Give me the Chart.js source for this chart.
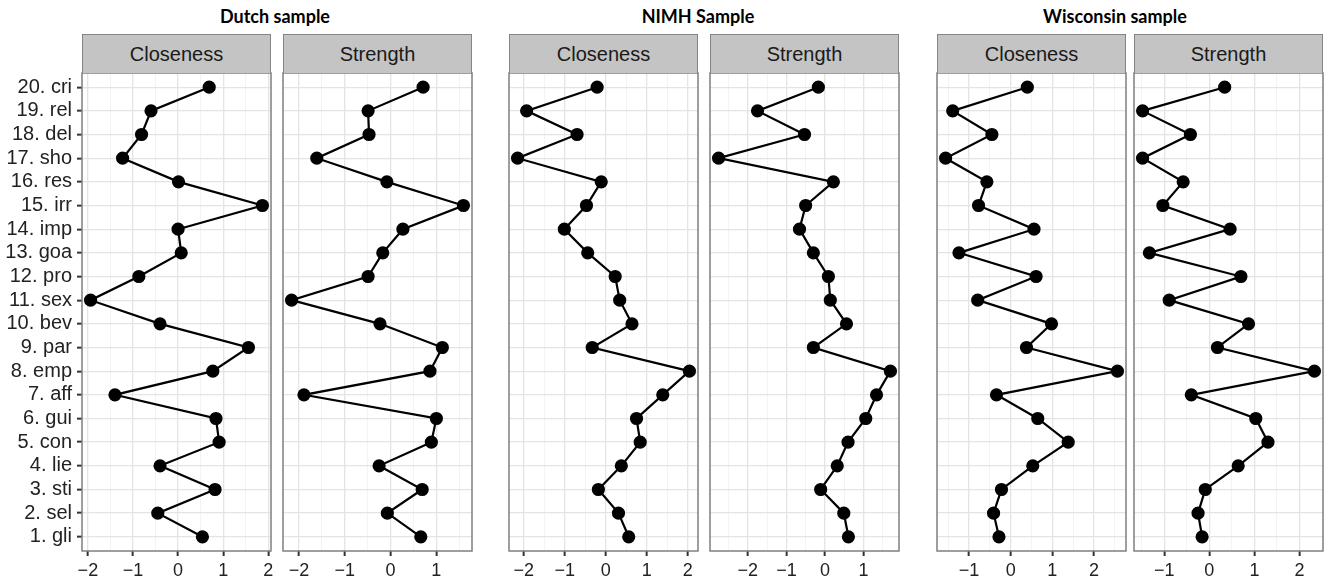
<!DOCTYPE html>
<html>
<head>
<meta charset="utf-8">
<title>Centrality indices</title>
<script src="https://cdn.jsdelivr.net/npm/chart.js@4.4.1/dist/chart.umd.min.js"></script>
<style>
    body { margin: 0; background: #fff; }
    #wrap { position: relative; width: 1329px; height: 583px; overflow: hidden; font-family: "Liberation Sans", Arial, sans-serif; }
    .group { position: absolute; top: 5px; width: 300px; margin-left: -150px; text-align: center; font: bold 18px Lato, "Open Sans", sans-serif; color: #000; }
    .strip { position: absolute; top: 34px; height: 39px; box-sizing: border-box; background: #c4c4c4; border: 1.5px solid #858585; border-bottom: none; font-size: 20px; line-height: 38px; color: #1a1a1a; text-align: center; }
    canvas { position: absolute; }
</style>
</head>
<body>
<div id="wrap"></div>
<script>
// Items, listed from the bottom of the axis (1) to the top (20)
const items = ['1. gli', '2. sel', '3. sti', '4. lie', '5. con', '6. gui', '7. aff', '8. emp', '9. par', '10. bev',
               '11. sex', '12. pro', '13. goa', '14. imp', '15. irr', '16. res', '17. sho', '18. del', '19. rel', '20. cri'];
const samples = ['Dutch sample', 'NIMH Sample', 'Wisconsin sample'];
const measures = ['Closeness', 'Strength'];

// z-scores per item, same order as items
const dutchCloseness = [0.54, -0.45, 0.82, -0.40, 0.91, 0.84, -1.40, 0.77, 1.56, -0.40, -1.94, -0.87, 0.07, 0.00, 1.87, 0.01, -1.23, -0.81, -0.60, 0.69];
const dutchStrength  = [0.66, -0.07, 0.69, -0.25, 0.89, 1.00, -1.89, 0.86, 1.13, -0.23, -2.16, -0.49, -0.17, 0.27, 1.59, -0.08, -1.61, -0.47, -0.49, 0.71];
const nimhCloseness  = [0.56, 0.31, -0.18, 0.38, 0.84, 0.75, 1.39, 2.04, -0.33, 0.64, 0.34, 0.23, -0.44, -1.01, -0.47, -0.11, -2.15, -0.70, -1.93, -0.21];
const nimhStrength   = [0.61, 0.49, -0.11, 0.32, 0.60, 1.06, 1.34, 1.70, -0.30, 0.56, 0.14, 0.09, -0.30, -0.66, -0.50, 0.22, -2.76, -0.53, -1.75, -0.17];
const wiscCloseness  = [-0.28, -0.41, -0.22, 0.53, 1.38, 0.65, -0.34, 2.56, 0.38, 0.98, -0.79, 0.61, -1.24, 0.56, -0.77, -0.57, -1.56, -0.45, -1.39, 0.40];
const wiscStrength   = [-0.16, -0.25, -0.09, 0.64, 1.30, 1.03, -0.40, 2.33, 0.18, 0.87, -0.89, 0.70, -1.33, 0.46, -1.03, -0.58, -1.48, -0.42, -1.48, 0.34];

const series = [dutchCloseness, dutchStrength, nimhCloseness, nimhStrength, wiscCloseness, wiscStrength];

// Layout (pixels)
const panelLeft = [82, 283, 509, 710, 937, 1134];
const panelWidth = 189;
const groupCenter = [275, 698, 1115];
const plotTop = 73;
const padX = 12;
const canvasTop = 50;
const canvasHeight = 533;

const FONT = '"Liberation Sans", Arial, sans-serif';
const isInt = v => Math.abs(v - Math.round(v)) < 1e-9;
const fmt = v => isInt(v) ? (v < 0 ? '\u2212' + Math.abs(Math.round(v)) : String(Math.round(v))) : '';

// Panel border drawn on top, like ggplot's theme_bw
const panelBorder = {
    id: 'panelBorder',
    afterDraw(chart) {
        const a = chart.chartArea;
        const ctx = chart.ctx;
        ctx.save();
        ctx.strokeStyle = '#7f7f7f';
        ctx.lineWidth = 1.5;
        ctx.strokeRect(a.left, a.top, a.right - a.left, a.bottom - a.top);
        ctx.restore();
    }
};

const wrap = document.getElementById('wrap');

samples.forEach((name, g) => {
    const div = document.createElement('div');
    div.className = 'group';
    div.style.left = groupCenter[g] + 'px';
    div.textContent = name;
    wrap.appendChild(div);
});

series.forEach((values, i) => {
    const first = i === 0;
    const left = panelLeft[i];

    // x range with ggplot's 5% expansion
    const lo = Math.min(...values), hi = Math.max(...values);
    const pad = (hi - lo) * 0.05;
    const xMin = lo - pad, xMax = hi + pad;

    const canvas = document.createElement('canvas');
    const cLeft = first ? 0 : left - padX;
    const cWidth = first ? left + panelWidth + padX : panelWidth + 2 * padX;
    canvas.width = cWidth;
    canvas.height = canvasHeight;
    canvas.style.left = cLeft + 'px';
    canvas.style.top = canvasTop + 'px';
    wrap.appendChild(canvas);

    // strip header (added after the canvas so it sits on top)
    const strip = document.createElement('div');
    strip.className = 'strip';
    strip.style.left = left + 'px';
    strip.style.width = panelWidth + 'px';
    strip.textContent = measures[i % 2];
    wrap.appendChild(strip);

    new Chart(canvas, {
        type: 'scatter',
        data: {
            datasets: [{
                data: values.map((v, k) => ({ x: v, y: k + 1 })),
                showLine: true,
                borderColor: '#000',
                backgroundColor: '#000',
                borderWidth: 2.2,
                pointRadius: 5.5,
                pointHoverRadius: 5.5,
                clip: false
            }]
        },
        options: {
            responsive: false,
            animation: false,
            events: [],
            layout: { padding: { left: first ? 0 : padX, right: padX, top: plotTop - canvasTop, bottom: 0 } },
            plugins: { legend: { display: false }, tooltip: { enabled: false } },
            scales: {
                x: {
                    type: 'linear',
                    min: xMin,
                    max: xMax,
                    afterBuildTicks: s => {
                        const t = [];
                        for (let v = Math.ceil(xMin * 2) / 2; v <= xMax; v += 0.5) t.push({ value: v });
                        s.ticks = t;
                    },
                    afterFit: s => { s.height = 32; },
                    border: { display: false },
                    grid: {
                        color: c => (c.tick && isInt(c.tick.value)) ? '#e4e4e4' : '#f3f3f3',
                        lineWidth: c => (c.tick && isInt(c.tick.value)) ? 1.3 : 1,
                        tickLength: 5,
                        tickWidth: 2,
                        tickColor: c => (c.tick && isInt(c.tick.value)) ? '#333' : 'rgba(0,0,0,0)'
                    },
                    ticks: {
                        autoSkip: false,
                        maxRotation: 0,
                        padding: 4,
                        color: '#222',
                        font: { family: FONT, size: 18 },
                        callback: v => fmt(v)
                    }
                },
                y: {
                    type: 'linear',
                    min: 0.4,
                    max: 20.6,
                    afterBuildTicks: s => { s.ticks = items.map((_, k) => ({ value: k + 1 })); },
                    afterFit: s => { s.width = first ? left : 0; },
                    border: { display: false },
                    grid: {
                        color: '#e4e4e4',
                        lineWidth: 1.3,
                        drawTicks: first,
                        tickLength: 5,
                        tickWidth: 2,
                        tickColor: '#333'
                    },
                    ticks: {
                        display: first,
                        autoSkip: false,
                        padding: 5,
                        color: '#222',
                        font: { family: FONT, size: 20 },
                        callback: v => items[Math.round(v) - 1]
                    }
                }
            }
        },
        plugins: [panelBorder]
    });
});
</script>
</body>
</html>
